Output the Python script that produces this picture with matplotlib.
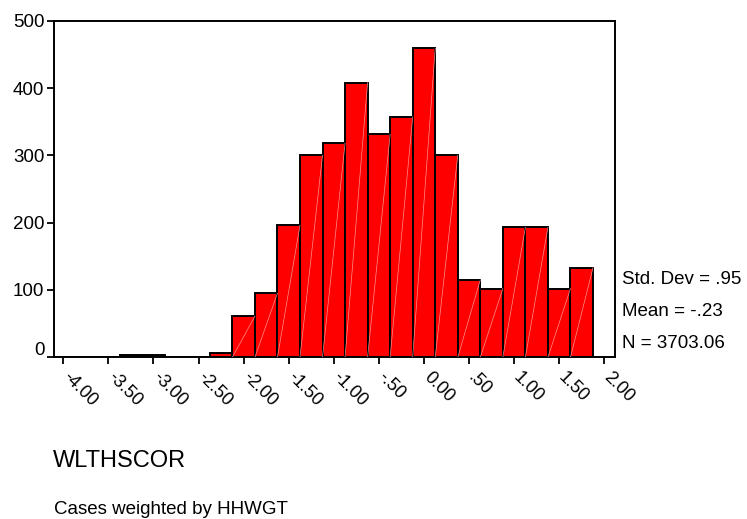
import matplotlib
matplotlib.use("Agg")
import matplotlib.pyplot as plt
import matplotlib.transforms as mtransforms

plt.rcParams["font.family"] = ["Liberation Sans", "DejaVu Sans"]

# bin centres (width .25) and weighted counts
bin_centers = [-4.00, -3.75, -3.50, -3.25, -3.00, -2.75, -2.50, -2.25,
               -2.00, -1.75, -1.50, -1.25, -1.00, -0.75, -0.50, -0.25,
               0.00, 0.25, 0.50, 0.75, 1.00, 1.25, 1.50, 1.75]
counts = [1, 0, 1, 4, 4, 0, 1, 6,
          61, 95, 196, 300, 318, 408, 331, 357,
          459, 300, 115, 102, 193, 193, 102, 133]
bin_width = 0.25

x_ticks = [-4.0, -3.5, -3.0, -2.5, -2.0, -1.5, -1.0, -0.5, 0.0, 0.5, 1.0, 1.5, 2.0]
x_labels = ["-4.00", "-3.50", "-3.00", "-2.50", "-2.00", "-1.50", "-1.00",
            "-.50", "0.00", ".50", "1.00", "1.50", "2.00"]
y_ticks = [0, 100, 200, 300, 400, 500]

stats = ["Std. Dev = .95", "Mean = -.23", "N = 3703.06"]
var_name = "WLTHSCOR"
weight_note = "Cases weighted by HHWGT"

fig = plt.figure(figsize=(7.47, 5.19), dpi=100)
ax = fig.add_axes([0.0723, 0.3116, 0.7510, 0.6485])

ax.bar(bin_centers, counts, width=bin_width, color="#ff0000",
       edgecolor="black", linewidth=1.4, zorder=2)
# faint diagonal streaks seen inside the SPSS bars
for c, h in zip(bin_centers, counts):
    if h > 20:
        ax.plot([c - bin_width / 2, c + bin_width / 2], [0, h],
                color="#ff9090", lw=0.5, zorder=3)

ax.set_xlim(-4.103, 2.119)
ax.set_ylim(0, 500)
ax.set_xticks(x_ticks)
ax.set_xticklabels(x_labels, rotation=-45, ha="left", va="top",
                   rotation_mode="anchor", fontsize=13)
ax.set_yticks(y_ticks)
ax.set_yticklabels([str(v) for v in y_ticks], fontsize=13.5)
ax.tick_params(axis="both", direction="out", length=5, width=1.3, color="black")
ax.tick_params(axis="y", pad=2)
ax.tick_params(axis="x", pad=3)
for s in ax.spines.values():
    s.set_linewidth(1.4)

# rotated labels sit a little right of their ticks
shift = mtransforms.ScaledTranslation(8 / 100, 0, fig.dpi_scale_trans)
for lbl in ax.get_xticklabels():
    lbl.set_transform(lbl.get_transform() + shift)

# SPSS lifts the "0" label above its tick
lbl0 = ax.get_yticklabels()[0]
lbl0.set_transform(lbl0.get_transform() +
                   mtransforms.ScaledTranslation(0, 9 / 100, fig.dpi_scale_trans))

for txt, ypix in zip(stats, [279, 311, 344]):
    fig.text(622 / 747, 1 - ypix / 519, txt, fontsize=13.5, ha="left", va="center")

fig.text(53 / 747, 1 - 461 / 519, var_name, fontsize=17, ha="left", va="center")
fig.text(54 / 747, 1 - 510 / 519, weight_note, fontsize=13.5, ha="left", va="center")

fig.savefig("out.png", dpi=100)
